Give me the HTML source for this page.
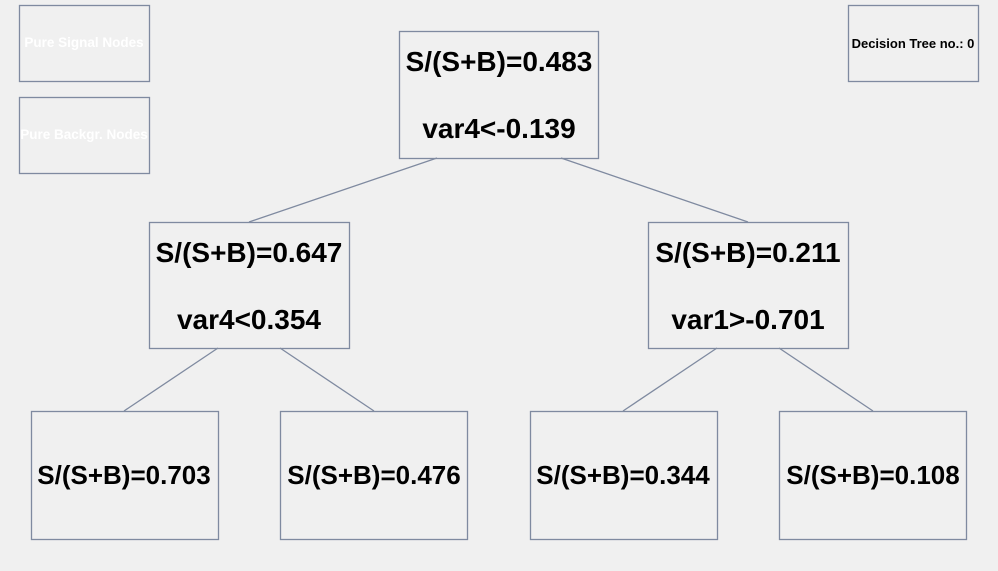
<!DOCTYPE html>
<html><head><meta charset="utf-8"><style>
html,body{margin:0;padding:0;background:#f0f0f0;}
svg{display:block;}
text{font-family:"Liberation Sans",Arial,sans-serif;font-weight:bold;text-anchor:middle;}
</style></head><body>
<svg width="998" height="571" viewBox="0 0 998 571" xmlns="http://www.w3.org/2000/svg">
<rect width="998" height="571" fill="#f0f0f0"/>
<g stroke="#7f8aa0" stroke-width="1.3" fill="none">
<rect x="19.5" y="5.5" width="130" height="76"/>
<rect x="19.5" y="97.5" width="130" height="76"/>
<rect x="848.5" y="5.5" width="130" height="76"/>
<rect x="399.5" y="31.5" width="199" height="127"/>
<rect x="149.5" y="222.5" width="200" height="126"/>
<rect x="648.5" y="222.5" width="200" height="126"/>
<rect x="31.5" y="411.5" width="187" height="128"/>
<rect x="280.5" y="411.5" width="187" height="128"/>
<rect x="530.5" y="411.5" width="187" height="128"/>
<rect x="779.5" y="411.5" width="187" height="128"/>
<line x1="437" y1="158" x2="249" y2="222"/>
<line x1="561" y1="158" x2="748" y2="222"/>
<line x1="218" y1="348" x2="124" y2="411"/>
<line x1="280" y1="348" x2="374" y2="411"/>
<line x1="717" y1="348" x2="623" y2="411"/>
<line x1="779" y1="348" x2="873" y2="411"/>
</g>
<g fill="#ffffff" font-size="13.5">
<text x="84" y="47">Pure Signal Nodes</text>
<text x="84" y="139">Pure Backgr. Nodes</text>
</g>
<text x="913" y="48" font-size="13" fill="#000">Decision Tree no.: 0</text>
<g fill="#000" font-size="28">
<text x="499" y="71">S/(S+B)=0.483</text>
<text x="499" y="138">var4&lt;-0.139</text>
<text x="249" y="262">S/(S+B)=0.647</text>
<text x="249" y="329">var4&lt;0.354</text>
<text x="748" y="262">S/(S+B)=0.211</text>
<text x="748" y="329">var1&gt;-0.701</text>
</g>
<g fill="#000" font-size="26">
<text x="124" y="484">S/(S+B)=0.703</text>
<text x="374" y="484">S/(S+B)=0.476</text>
<text x="623" y="484">S/(S+B)=0.344</text>
<text x="873" y="484">S/(S+B)=0.108</text>
</g>
</svg>
</body></html>
